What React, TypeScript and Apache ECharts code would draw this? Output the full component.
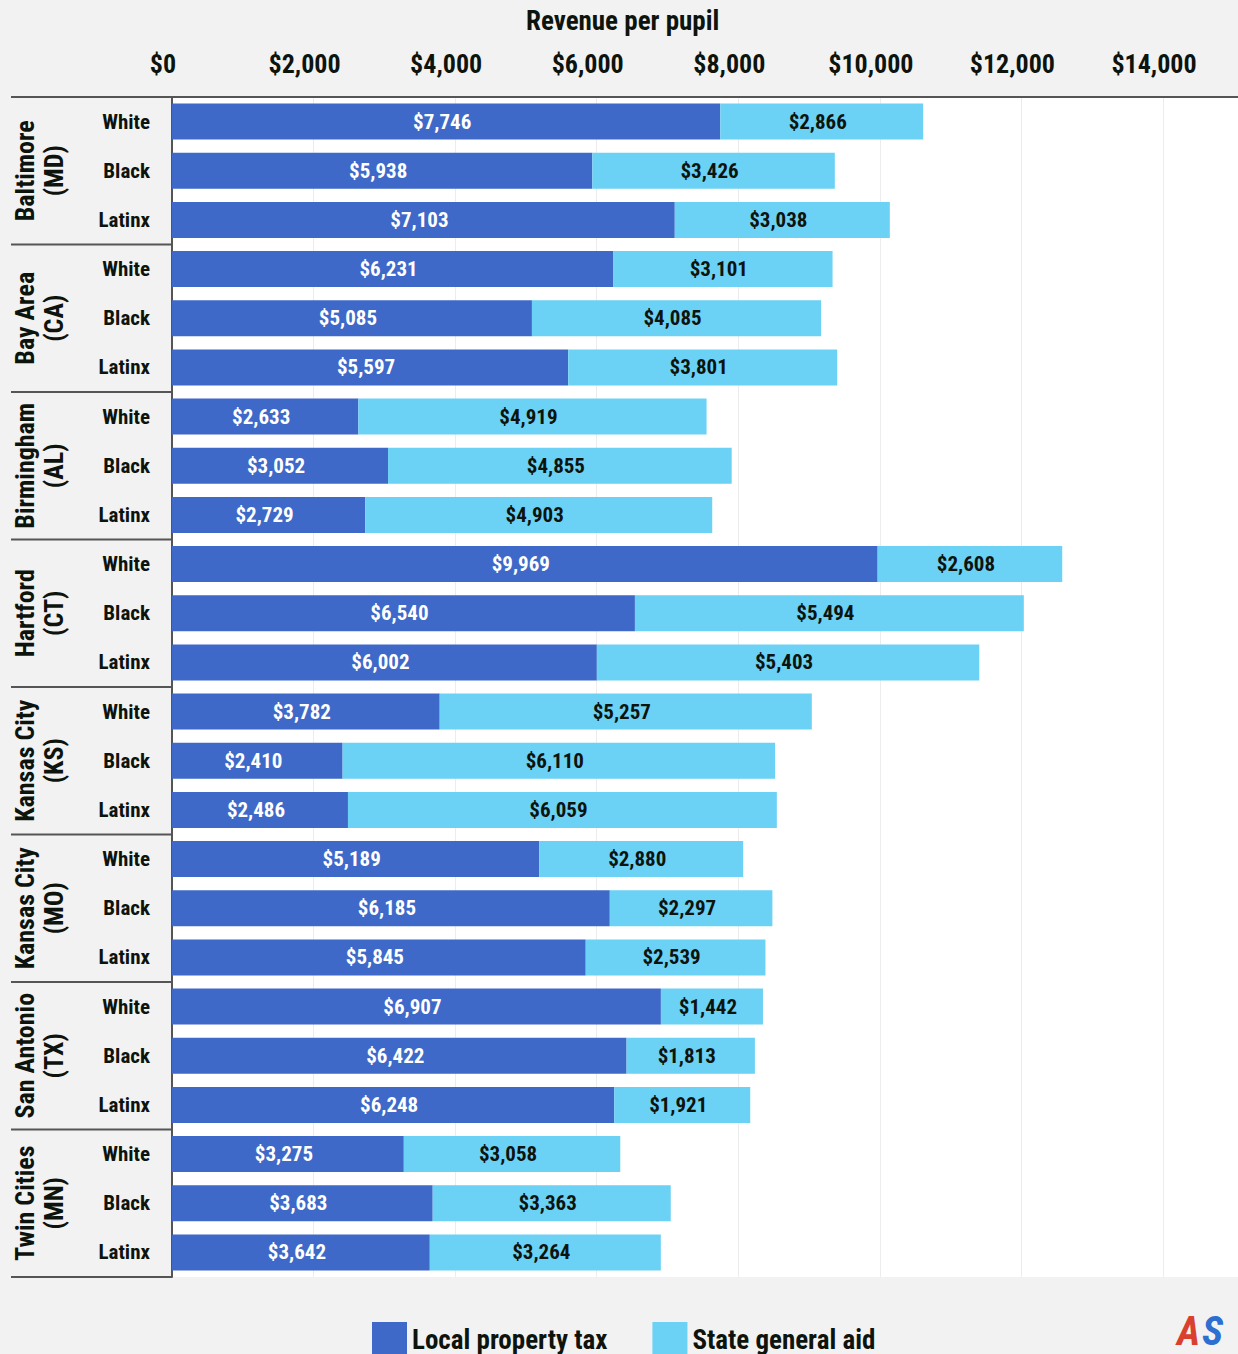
import React, { useEffect, useRef } from "react";
import * as echarts from "echarts";

const groupNames = ["Baltimore", "Bay Area", "Birmingham", "Hartford", "Kansas City", "Kansas City", "San Antonio", "Twin Cities"];
const groupStates = ["(MD)", "(CA)", "(AL)", "(CT)", "(KS)", "(MO)", "(TX)", "(MN)"];
const races = ["White", "Black", "Latinx"];

const localTax = [
  7746, 5938, 7103,
  6231, 5085, 5597,
  2633, 3052, 2729,
  9969, 6540, 6002,
  3782, 2410, 2486,
  5189, 6185, 5845,
  6907, 6422, 6248,
  3275, 3683, 3642,
];
const stateAid = [
  2866, 3426, 3038,
  3101, 4085, 3801,
  4919, 4855, 4903,
  2608, 5494, 5403,
  5257, 6110, 6059,
  2880, 2297, 2539,
  1442, 1813, 1921,
  3058, 3363, 3264,
];

const FONT = "'Liberation Sans Narrow', 'Roboto Condensed', 'DejaVu Sans Condensed', Roboto, sans-serif";
const TEXT = "#0d140d";
const DARK = "#3e69c9";
const LIGHT = "#6bd1f5";

const W = 1238;
const H = 1354;
const GRID_LEFT = 172;
const GRID_TOP = 97;
const GRID_BOTTOM = 77;

export default function App() {
  const ref = useRef<HTMLDivElement>(null);
  useEffect(() => {
    document.body.style.margin = "0";
    const chart = echarts.init(ref.current!, null, { renderer: "svg" });
    const categories: string[] = [];
    groupNames.forEach((g, gi) => races.forEach((r) => categories.push(g + " " + groupStates[gi] + "|" + r)));
    const plotH = H - GRID_TOP - GRID_BOTTOM;
    const groupH = plotH / groupNames.length;

    const graphics: any[] = [];
    graphics.push({
      type: "line",
      shape: { x1: 11, y1: GRID_TOP, x2: W, y2: GRID_TOP },
      style: { stroke: "#555", lineWidth: 2 },
      z: 10,
    });
    for (let k = 1; k <= groupNames.length; k++) {
      const y = GRID_TOP + groupH * k;
      graphics.push({
        type: "line",
        shape: { x1: 11, y1: y, x2: GRID_LEFT, y2: y },
        style: { stroke: "#555", lineWidth: 2 },
        z: 10,
      });
    }
    groupNames.forEach((g, gi) => {
      const cy = GRID_TOP + groupH * (gi + 0.5);
      graphics.push({
        type: "text",
        x: 39,
        y: cy,
        rotation: Math.PI / 2,
        style: {
          text: g + "\n" + groupStates[gi],
          fill: TEXT,
          font: "bold 26px " + FONT,
          textAlign: "center",
          textVerticalAlign: "middle",
          lineHeight: 29,
        },
        z: 10,
      });
    });
    graphics.push({
      type: "text",
      x: 1177,
      y: 1311,
      style: {
        text: "A",
        font: "italic bold 40px " + FONT,
        textAlign: "left",
        fill: "#d9412e",
      },
      z: 10,
    });
    graphics.push({
      type: "text",
      x: 1202,
      y: 1311,
      style: {
        text: "S",
        font: "italic bold 40px " + FONT,
        textAlign: "left",
        fill: "#2c6fd1",
      },
      z: 10,
    });

    chart.setOption({
      animation: false,
      backgroundColor: "#f2f2f2",
      textStyle: { fontFamily: FONT },
      title: {
        text: "Revenue per pupil",
        left: 521,
        top: 2,
        textStyle: { fontSize: 27, fontWeight: "bold", color: TEXT, fontFamily: FONT },
      },
      legend: {
        left: 367,
        top: 1317,
        icon: "rect",
        itemWidth: 35,
        itemHeight: 35,
        itemGap: 45,
        itemTextGap: 12,
        textStyle: { fontSize: 27, fontWeight: "bold", color: TEXT, fontFamily: FONT },
        data: ["Local property tax", "State general aid"],
      },
      grid: {
        left: GRID_LEFT,
        right: 0,
        top: GRID_TOP,
        bottom: GRID_BOTTOM,
        show: true,
        backgroundColor: "#ffffff",
        borderWidth: 0,
      },
      xAxis: {
        type: "value",
        position: "top",
        min: 0,
        max: 15060,
        interval: 2000,
        axisLine: { show: false },
        axisTick: { show: false },
        splitLine: { show: true, lineStyle: { color: "#ececec", width: 1 } },
        axisLabel: {
          showMaxLabel: false,
          margin: 20,
          fontSize: 26,
          fontWeight: "bold",
          color: TEXT,
          fontFamily: FONT,
          padding: [0, 18, 0, 0],
          formatter: (v: number) => "$" + v.toLocaleString("en-US"),
        },
      },
      yAxis: {
        type: "category",
        inverse: true,
        data: categories,
        axisLine: { show: true, lineStyle: { color: "#555", width: 2 } },
        axisTick: { show: false },
        axisLabel: {
          margin: 22,
          fontSize: 21,
          fontWeight: "bold",
          color: TEXT,
          fontFamily: FONT,
          formatter: (v: string) => v.split("|")[1],
        },
      },
      series: [
        {
          name: "Local property tax",
          type: "bar",
          stack: "total",
          barWidth: 36,
          itemStyle: { color: DARK },
          label: {
            show: true,
            position: "inside",
            offset: [-4, 0],
            color: "#ffffff",
            fontSize: 21,
            fontWeight: "bold",
            fontFamily: FONT,
            formatter: (p: any) => "$" + p.value.toLocaleString("en-US"),
          },
          data: localTax,
        },
        {
          name: "State general aid",
          type: "bar",
          stack: "total",
          barWidth: 36,
          itemStyle: { color: LIGHT },
          label: {
            show: true,
            position: "inside",
            offset: [-4, 0],
            color: TEXT,
            fontSize: 21,
            fontWeight: "bold",
            fontFamily: FONT,
            formatter: (p: any) => "$" + p.value.toLocaleString("en-US"),
          },
          data: stateAid,
        },
      ],
      graphic: graphics,
    });
    return () => chart.dispose();
  }, []);
  return <div ref={ref} style={{ width: W, height: H }} />;
}
